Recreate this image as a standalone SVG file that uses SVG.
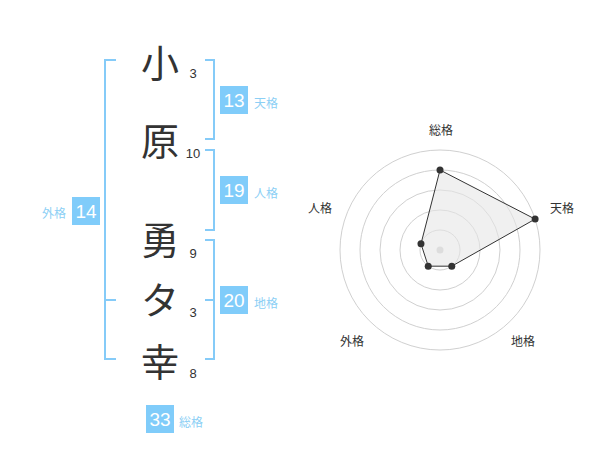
<svg xmlns="http://www.w3.org/2000/svg" width="600" height="470" viewBox="0 0 600 470">
<style>
.kanji{font-family:"Noto Sans CJK JP","Noto Sans CJK SC",sans-serif;font-size:38px;font-weight:400;fill:#333;text-anchor:middle}
.num{font-family:"Liberation Sans",Arial,sans-serif;font-size:13px;fill:#333;text-anchor:middle}
.box{fill:#80ccfa}
.bnum{font-family:"Liberation Sans",Arial,sans-serif;font-size:19px;fill:#fff;text-anchor:middle}
.lbl{font-family:"Noto Sans CJK JP","Noto Sans CJK SC",sans-serif;font-size:12px;fill:#8ccff5}
.br{fill:none;stroke:#85cbf8;stroke-width:2}
.grid{fill:none;stroke:#d0d0d0;stroke-width:1}
.rl{font-family:"Noto Sans CJK JP","Noto Sans CJK SC",sans-serif;font-size:12px;fill:#333;text-anchor:middle}
.pt{fill:#333}
</style>
<rect width="600" height="470" fill="#fff"/>
<g id="brackets">
<path class="br" d="M116,60 H105 V359 H116 M105,300 H116"/>
<path class="br" d="M205,60 H214 V139 H205"/>
<path class="br" d="M205,150 H214 V230 H205"/>
<path class="br" d="M205,240 H214 V359 H205 M214,300 H205"/>
</g>
<g id="chars">
<text class="kanji" x="160" y="77">小</text>
<text class="kanji" x="160" y="155">原</text>
<text class="kanji" x="160" y="254">勇</text>
<text class="kanji" x="160" y="314">タ</text>
<text class="kanji" x="160" y="376">幸</text>
<text class="num" x="193" y="78">3</text>
<text class="num" x="193" y="158">10</text>
<text class="num" x="193" y="258">9</text>
<text class="num" x="193" y="317">3</text>
<text class="num" x="193" y="378">8</text>
</g>
<g id="tenkaku">
<rect class="box" x="220" y="86" width="28" height="28"/>
<text class="bnum" x="234" y="107">13</text>
<text class="lbl" x="254" y="108">天格</text>
</g>
<g id="jinkaku">
<rect class="box" x="220" y="176" width="28" height="28"/>
<text class="bnum" x="234" y="197">19</text>
<text class="lbl" x="254" y="198">人格</text>
</g>
<g id="chikaku">
<rect class="box" x="220" y="286" width="28" height="28"/>
<text class="bnum" x="234" y="307">20</text>
<text class="lbl" x="254" y="308">地格</text>
</g>
<g id="gaikaku">
<rect class="box" x="72" y="197" width="28" height="28"/>
<text class="bnum" x="86" y="218">14</text>
<text class="lbl" x="66" y="218" text-anchor="end">外格</text>
</g>
<g id="soukaku">
<rect class="box" x="146" y="405" width="28" height="28"/>
<text class="bnum" x="160" y="426">33</text>
<text class="lbl" x="179" y="427">総格</text>
</g>
<g id="radar">
<circle class="grid" cx="440" cy="250" r="20"/>
<circle class="grid" cx="440" cy="250" r="40"/>
<circle class="grid" cx="440" cy="250" r="60"/>
<circle class="grid" cx="440" cy="250" r="80"/>
<circle class="grid" cx="440" cy="250" r="100"/>
<circle cx="440" cy="250" r="3.5" fill="#cfcfcf"/>
<polygon points="440,170 535.1,219.1 451.76,266.18 428.24,266.18 420.98,243.82" fill="#e6e6e6" fill-opacity="0.6" stroke="#333" stroke-width="1"/>
<circle class="pt" cx="440" cy="170" r="3.5"/>
<circle class="pt" cx="535.1" cy="219.1" r="3.5"/>
<circle class="pt" cx="451.76" cy="266.18" r="3.5"/>
<circle class="pt" cx="428.24" cy="266.18" r="3.5"/>
<circle class="pt" cx="420.98" cy="243.82" r="3.5"/>
<text class="rl" x="441" y="135">総格</text>
<text class="rl" x="562" y="213">天格</text>
<text class="rl" x="523" y="346">地格</text>
<text class="rl" x="352" y="346">外格</text>
<text class="rl" x="320" y="213">人格</text>
</g>
</svg>
